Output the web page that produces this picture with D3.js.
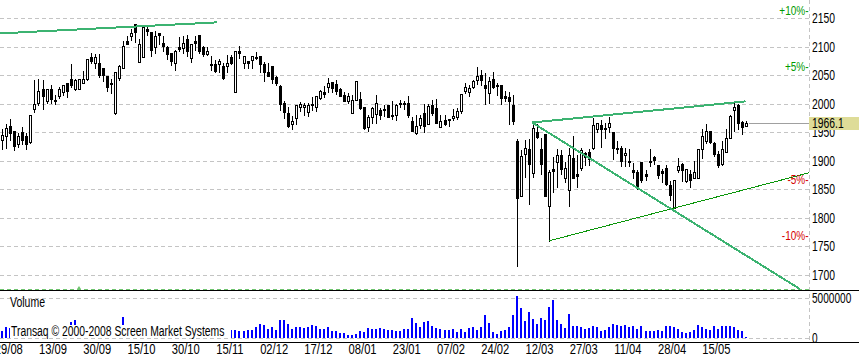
<!doctype html>
<html>
<head>
<meta charset="utf-8"/>
<title>Candles</title>
<script src="https://cdnjs.cloudflare.com/ajax/libs/d3/7.8.5/d3.min.js"></script>
<style>
  body { margin: 0; background: #fff; }
  svg { display: block; font-family: "Liberation Sans", Arial, sans-serif; }
</style>
</head>
<body>
<svg width="859" height="356"></svg>
<script>
// daily bars
var opens = [1937,1944,1961,1952,1930,1950,1943,1933,1990,2002,
  2026,2004,2026,2007,2013,2020,2036,2043,2026,2026,
  2037,2043,2082,2072,2072,2063,2048,2037,1983,2045,
  2063,2109,2118,2140,2073,2082,2130,2126,2099,2123,
  2106,2100,2089,2071,2099,2097,2113,2080,2110,2121,
  2099,2087,2070,2070,2069,2066,2066,2082,2020,2092,
  2072,2075,2076,2082,2084,2069,2055,2066,2046,2031,
  2001,1983,1964,1975,1994,1995,1985,1999,1994,2010,
  2021,2029,2038,2035,2025,2015,2005,1983,2007,2008,
  1994,1960,1976,1982,1989,1990,1998,1980,1980,2002,
  2001,2002,1970,1949,1963,1983,1965,1997,1992,1960,
  1972,1973,1975,1977,1988,2023,2020,2030,2042,2050,
  2033,2019,2044,2033,2033,2013,2011,1997,1934,1838,
  1911,1921,1879,1951,1920,1947,1820,1885,1898,1910,
  1870,1849,1905,1876,1888,1913,1916,1922,1956,1962,
  1957,1959,1951,1922,1923,1910,1900,1883,1881,1897,
  1876,1900,1907,1892,1882,1887,1857,1818,1883,1894,
  1865,1876,1870,1870,1920,1934,1952,1932,1912,1894,
  1916,1940,1989,1997,1968,1961];
var highs = [1956,1964,1973,1952,1948,1960,1948,1980,2042,2043,
  2042,2026,2033,2015,2030,2032,2036,2069,2043,2043,
  2057,2079,2089,2087,2087,2063,2048,2043,2056,2067,
  2110,2118,2130,2140,2114,2134,2134,2126,2127,2124,
  2119,2101,2089,2094,2116,2118,2121,2105,2118,2121,
  2101,2100,2084,2077,2079,2071,2086,2086,2093,2101,
  2083,2075,2084,2090,2084,2073,2071,2066,2049,2032,
  2004,1995,1979,1997,2003,2002,2002,2011,2013,2024,
  2031,2045,2038,2042,2027,2020,2018,2015,2040,2021,
  1994,1980,1994,2015,1993,1997,1998,2004,2000,2007,
  2004,2013,1977,1980,1980,2000,2000,2007,2008,1981,
  1980,1974,1990,1992,2017,2036,2033,2041,2065,2059,
  2053,2046,2055,2036,2033,2023,2020,2015,1938,1918,
  1937,1938,1967,1964,1940,1947,1883,1907,1920,1919,
  1897,1922,1944,1910,1923,1916,1920,1975,1966,1972,
  1967,1977,1951,1934,1926,1923,1920,1896,1883,1897,
  1883,1921,1908,1892,1886,1892,1865,1866,1904,1896,
  1885,1884,1899,1920,1956,1965,1953,1933,1917,1934,
  1955,1980,2002,1999,1970,1970];
var lows = [1920,1922,1936,1918,1924,1930,1921,1931,1986,1998,
  1990,2002,2001,2000,2010,2016,2012,2030,2024,2025,
  2036,2041,2072,2063,2047,2039,2023,2019,1982,2041,
  2062,2104,2112,2108,2073,2082,2120,2084,2089,2105,
  2092,2079,2068,2059,2092,2089,2083,2073,2094,2089,
  2083,2086,2059,2056,2056,2044,2055,2069,2020,2080,
  2063,2063,2063,2079,2056,2039,2049,2036,2033,1989,
  1975,1959,1955,1964,1988,1980,1979,1989,1988,2008,
  2011,2020,2020,2017,2013,2004,2001,1983,2006,1991,
  1955,1953,1967,1966,1973,1979,1977,1973,1972,1995,
  1990,1976,1952,1947,1958,1951,1965,1980,1967,1959,
  1962,1961,1972,1973,1983,2018,2014,2027,2034,2033,
  1999,2001,2027,2015,2000,2004,1965,1964,1716,1838,
  1872,1825,1872,1940,1876,1838,1759,1845,1854,1876,
  1863,1820,1870,1854,1883,1892,1892,1921,1950,1925,
  1940,1951,1903,1913,1891,1891,1891,1870,1850,1863,
  1866,1891,1894,1870,1863,1858,1832,1818,1880,1865,
  1863,1854,1869,1869,1905,1932,1932,1909,1889,1892,
  1916,1940,1952,1956,1947,1961];
var closes = [1945,1958,1949,1926,1943,1937,1929,1980,1999,2022,
  2014,2026,2009,2004,2026,2032,2022,2032,2041,2043,
  2043,2079,2075,2081,2051,2051,2030,2035,2056,2066,
  2101,2105,2123,2125,2104,2134,2127,2094,2119,2120,
  2101,2087,2075,2092,2095,2106,2092,2105,2107,2093,
  2087,2093,2067,2058,2075,2045,2071,2071,2092,2089,
  2083,2071,2084,2080,2069,2055,2049,2043,2036,2000,
  1986,1961,1970,1997,1999,1998,1998,1997,2013,2022,
  2017,2036,2028,2023,2014,2005,2014,2007,2040,1992,
  1957,1977,1992,2001,1980,1989,1977,1978,1998,2000,
  1999,1980,1952,1961,1975,1961,1996,1984,1967,1970,
  1965,1971,1979,1988,2017,2029,2027,2039,2048,2042,
  2028,2039,2030,2031,2010,2010,2004,1969,1834,1908,
  1922,1894,1957,1941,1895,1838,1880,1882,1910,1886,
  1888,1910,1870,1873,1919,1907,1903,1962,1966,1956,
  1956,1966,1922,1920,1900,1914,1898,1881,1854,1866,
  1874,1898,1901,1875,1879,1860,1840,1866,1891,1883,
  1885,1867,1880,1920,1944,1952,1933,1912,1892,1920,
  1940,1978,1995,1967,1960,1966.1];
// volume in millions
var volumes = [0.83,1.33,1.2,1.0,1.1,0.9,1.0,1.4,1.5,1.3,
  1.2,1.0,1.1,0.9,1.0,1.2,1.1,1.95,2.29,1.3,
  1.1,1.4,1.2,1.0,1.3,1.2,1.4,1.1,1.5,1.2,
  2.58,1.3,1.1,1.4,1.5,1.4,1.0,1.3,1.2,0.9,
  1.0,1.1,1.2,1.3,1.0,1.1,1.2,1.3,0.9,1.2,
  1.1,1.0,1.2,1.3,1.1,1.4,1.2,1.04,1.04,0.9,
  0.83,1.04,1.04,1.33,1.79,1.66,1.16,1.41,1.04,2.29,
  2.29,1.79,1.16,1.41,1.33,1.25,1.41,1.66,1.54,1.16,
  1.16,1.41,0.91,0.91,0.66,0.66,0.41,0.41,0.54,0.91,
  0.79,1.29,1.16,1.16,1.29,1.16,1.04,1.04,0.91,0.91,
  1.16,1.16,2.54,1.91,1.41,2.04,2.16,1.54,1.29,1.16,
  1.04,1.04,1.16,0.79,1.16,0.79,1.29,1.41,1.04,1.41,
  2.91,1.91,0.79,0.54,0.91,1.04,1.41,2.91,5.29,3.79,
  2.16,3.29,2.41,1.79,2.54,2.29,3.91,4.79,2.29,1.79,
  1.29,3.04,1.45,1.45,1.33,1.16,1.25,1.45,1.33,0.91,
  1.04,1.33,1.79,1.66,1.45,1.66,1.33,1.45,1.16,1.45,
  0.91,0.83,0.91,1.04,0.91,1.54,1.54,1.33,1.16,0.79,
  0.66,0.79,1.04,1.66,1.33,1.16,1.04,1.45,1.16,1.45,
  1.54,1.54,1.33,1.04,0.91,0.16];

var dateLabels = ["29/08","13/09","30/09","15/10","30/10","15/11","02/12","17/12","08/01",
  "23/01","07/02","24/02","12/03","27/03","11/04","28/04","15/05"];
var priceTicks = [1700,1750,1800,1850,1900,1950,2000,2050,2100,2150];
var volTicks = [0,5];
var volTickLabels = ["0","5000000"];
var pctLevels = [10,5,-5,-10];

// hand-drawn trend lines [bar index, price]
var trendTop = [[-0.6,2123],[53.3,2142.3]];
var trendUpper = [[131.8,1967],[184.9,2004]];
var trendDown = [[131.8,1967],[198.4,1675.5]];
var trendSupport = [[136.1,1760],[200.7,1879]];

var svg = d3.select("svg");
var W = 859, axisX = 809;

var x = d3.scaleLinear().domain([0,185]).range([2.3,746]);
var y = d3.scaleLinear().domain([1700,2150]).range([275,18]);
var yv = d3.scaleLinear().domain([0,5]).range([338,298]);

// the original font is a narrow bitmap face, so squeeze text sideways
function squeeze(sel, k) {
  sel.each(function(){
    var w = this.getComputedTextLength();
    d3.select(this).attr("textLength", w*k).attr("lengthAdjust","spacingAndGlyphs");
  });
}

// price grid
var grid = svg.append("g").attr("transform","translate("+axisX+",0)")
  .call(d3.axisRight(y).tickValues(priceTicks).tickSize(-axisX).tickFormat(""));
grid.select(".domain").remove();
grid.selectAll("line").attr("stroke","#c4c4c4").attr("stroke-dasharray","4,3").attr("shape-rendering","crispEdges");

var vgrid = svg.append("g").attr("transform","translate("+axisX+",0)")
  .call(d3.axisRight(yv).tickValues(volTicks).tickSize(-axisX).tickFormat(""));
vgrid.select(".domain").remove();
vgrid.selectAll("line").attr("stroke","#c4c4c4").attr("stroke-dasharray","4,3").attr("shape-rendering","crispEdges");

svg.append("line").attr("x1",axisX+0.5).attr("x2",axisX+0.5).attr("y1",0).attr("y2",342)
  .attr("stroke","#c4c4c4").attr("stroke-dasharray","4,3").attr("shape-rendering","crispEdges");

// bottom of price pane
svg.append("line").attr("x1",0).attr("x2",axisX).attr("y1",289.5).attr("y2",289.5)
  .attr("stroke","#6fc46f").attr("stroke-dasharray","4,3").attr("shape-rendering","crispEdges");
svg.append("path").attr("d","M"+(Math.round(x(19))-2)+",289 L"+Math.round(x(19))+",286 L"+(Math.round(x(19))+2)+",289 Z")
  .attr("fill","#6fc46f");

// volume bars
svg.append("g").selectAll("rect").data(volumes).enter().append("rect")
  .attr("x", function(d,i){ return Math.round(x(i)) - 1; })
  .attr("y", function(d){ return Math.round(yv(d)); })
  .attr("width", 2)
  .attr("height", function(d){ return 338 - Math.round(yv(d)); })
  .attr("fill","#0000ff").attr("shape-rendering","crispEdges");

// copyright with white backing
svg.append("rect").attr("x",10).attr("y",325).attr("width",221).attr("height",13).attr("fill","#fff");
svg.append("text").attr("x",11).attr("y",336).attr("font-size",14)
  .text("Transaq \u00a9 2000-2008 Screen Market Systems").call(squeeze,0.74);
svg.append("text").attr("x",10).attr("y",307).attr("font-size",14).text("Volume").call(squeeze,0.75);

// candles
var candles = svg.append("g").attr("shape-rendering","crispEdges");
opens.forEach(function(o,i){
  var c = closes[i], cx = Math.round(x(i));
  candles.append("line").attr("x1",cx+0.5).attr("x2",cx+0.5)
    .attr("y1",Math.round(y(highs[i]))).attr("y2",Math.round(y(lows[i]))+1)
    .attr("stroke","#000");
  var top = Math.round(y(Math.max(o,c))), bot = Math.round(y(Math.min(o,c)));
  if (c < o || bot - top < 2) {
    candles.append("rect").attr("x",cx-1).attr("y",top).attr("width",3)
      .attr("height",Math.max(1,bot-top+1)).attr("fill","#000");
  } else {
    candles.append("rect").attr("x",cx-0.5).attr("y",top+0.5).attr("width",2)
      .attr("height",bot-top).attr("fill","#fff").attr("stroke","#000");
  }
});

// trend lines
var line = d3.line().x(function(d){ return x(d[0]); }).y(function(d){ return y(d[1]); });
svg.append("path").attr("d",line(trendSupport)).attr("fill","none")
  .attr("stroke","#0a960a").attr("stroke-width",1).attr("shape-rendering","crispEdges");
[trendTop,trendUpper,trendDown].forEach(function(t){
  svg.append("path").attr("d",line(t)).attr("fill","none")
    .attr("stroke","#3cb371").attr("stroke-width",2).attr("shape-rendering","crispEdges");
});

// separators
svg.append("line").attr("x1",0).attr("x2",W).attr("y1",290.5).attr("y2",290.5).attr("stroke","#000");
svg.append("line").attr("x1",0).attr("x2",W).attr("y1",342.5).attr("y2",342.5).attr("stroke","#000");

// right axis labels
var ax = svg.append("g").attr("transform","translate("+axisX+",0)")
  .call(d3.axisRight(y).tickValues(priceTicks).tickSize(0).tickPadding(3).tickFormat(d3.format("d")));
ax.select(".domain").remove();
ax.attr("font-family",null).attr("font-size",14);
ax.selectAll("text").attr("fill","#000").call(squeeze,0.74);

var vax = svg.append("g").attr("transform","translate("+axisX+",0)")
  .call(d3.axisRight(yv).tickValues(volTicks).tickSize(0).tickPadding(3)
    .tickFormat(function(d,i){ return volTickLabels[i]; }));
vax.select(".domain").remove();
vax.attr("font-family",null).attr("font-size",14);
vax.selectAll("text").attr("fill","#000").call(squeeze,0.72);

// percent levels from last close
var last = closes[closes.length-1];
svg.append("g").selectAll("text").data(pctLevels).enter().append("text")
  .attr("x",axisX-0.5).attr("y",function(d){ return y(last*(1+d/100)); }).attr("dy","0.35em")
  .attr("text-anchor","end").attr("font-size",12.5)
  .attr("fill",function(d){ return d > 0 ? "#009a00" : "#d40000"; })
  .text(function(d){ return (d > 0 ? "+" : "") + d + "%-"; })
  .call(squeeze,0.8);

// last price marker
var ly = Math.round(y(last));
svg.append("line").attr("x1",Math.round(x(185))+3).attr("x2",axisX).attr("y1",ly+0.5).attr("y2",ly+0.5)
  .attr("stroke","#a0a0a0").attr("shape-rendering","crispEdges");
svg.append("rect").attr("x",axisX).attr("y",ly-6).attr("width",W-axisX).attr("height",13).attr("fill","#dedc98");
svg.append("text").attr("x",axisX+3).attr("y",ly).attr("dy","0.35em").attr("font-size",14)
  .text(d3.format(".1f")(last)).call(squeeze,0.74);

// date axis
var labelIdx = dateLabels.map(function(d,k){ return 1.5 + 11*k; });
var xa = svg.append("g").attr("transform","translate(0,342)")
  .call(d3.axisBottom(x).tickValues(labelIdx).tickSize(0).tickPadding(2)
    .tickFormat(function(d,i){ return dateLabels[i]; }));
xa.select(".domain").remove();
xa.attr("font-family",null).attr("font-size",14);
xa.selectAll("text").attr("fill","#000").call(squeeze,0.8);
</script>
</body>
</html>
